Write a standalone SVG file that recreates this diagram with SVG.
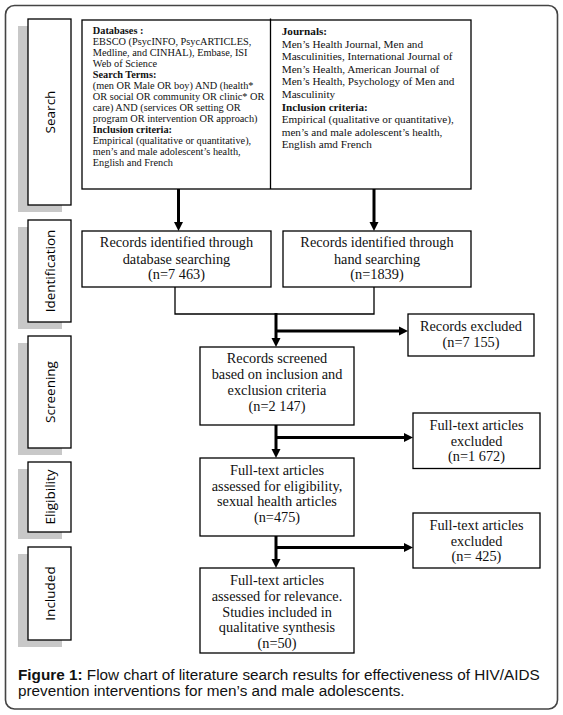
<svg xmlns="http://www.w3.org/2000/svg" width="563" height="715" viewBox="0 0 563 715">
<defs>
<style>
.box{fill:#fff;stroke:#000;stroke-width:1.3}
.shadow{fill:#c8c8c8;stroke:none}
.lbl{fill:#fff;stroke:#000;stroke-width:1.3}
.lt{font-family:"Open Sans","Noto Sans",sans-serif;font-size:13.5px;fill:#000;text-anchor:middle;dominant-baseline:central}
.t{font-family:"Liberation Serif","Times New Roman",serif;font-size:14.3px;fill:#111;text-anchor:middle}
.s1{font-family:"Liberation Serif","Times New Roman",serif;font-size:10.3px;fill:#111}
.s2{font-family:"Liberation Serif","Times New Roman",serif;font-size:11.2px;fill:#111}
.b{font-weight:bold}
.thick{stroke:#000;stroke-width:3;fill:none}
.thin{stroke:#000;stroke-width:1.3;fill:none}
.cap{font-family:"Liberation Sans",Arial,sans-serif;font-size:15.3px;fill:#111}
</style>
<marker id="ah" markerUnits="userSpaceOnUse" markerWidth="10" markerHeight="10" refX="0" refY="5" orient="auto">
<path d="M0,0.5 L9,5 L0,9.5 z" fill="#000"/>
</marker>
</defs>
<rect x="5.5" y="5.5" width="552" height="703.5" rx="9" fill="#fff" stroke="#444" stroke-width="1.6"/>

<g id="stage-search">
<rect class="shadow" x="18" y="26" width="44" height="186"/>
<rect class="lbl" x="28" y="19" width="43" height="186"/>
<text class="lt" transform="translate(49.5,112) rotate(-90)">Search</text>
</g>
<g id="stage-identification">
<rect class="shadow" x="18" y="227" width="44" height="102"/>
<rect class="lbl" x="28" y="220" width="43" height="102"/>
<text class="lt" transform="translate(49.5,271) rotate(-90)">Identification</text>
</g>
<g id="stage-screening">
<rect class="shadow" x="18" y="343" width="44" height="112"/>
<rect class="lbl" x="28" y="336" width="43" height="112"/>
<text class="lt" transform="translate(49.5,392) rotate(-90)">Screening</text>
</g>
<g id="stage-eligibility">
<rect class="shadow" x="18" y="469" width="44" height="70"/>
<rect class="lbl" x="28" y="462" width="43" height="70"/>
<text class="lt" transform="translate(49.5,497) rotate(-90)">Eligibility</text>
</g>
<g id="stage-included">
<rect class="shadow" x="18" y="554" width="44" height="93"/>
<rect class="lbl" x="28" y="547" width="43" height="93"/>
<text class="lt" transform="translate(49.5,593.5) rotate(-90)">Included</text>
</g>

<g id="search-box">
<rect class="box" x="82" y="20" width="389" height="169"/>
<line class="thin" x1="270.5" y1="18.5" x2="270.5" y2="189"/>
<text class="s1" x="92.8">
<tspan x="92.8" y="33.5" class="b">Databases :</tspan>
<tspan x="92.8" y="44.5">EBSCO (PsycINFO, PsycARTICLES,</tspan>
<tspan x="92.8" y="55.5">Medline, and CINHAL), Embase, ISI</tspan>
<tspan x="92.8" y="66.5">Web of Science</tspan>
<tspan x="92.8" y="77.5" class="b">Search Terms:</tspan>
<tspan x="92.8" y="88.5">(men OR Male OR boy) AND (health*</tspan>
<tspan x="92.8" y="99.5">OR social OR community OR clinic* OR</tspan>
<tspan x="92.8" y="110.5">care) AND (services OR setting OR</tspan>
<tspan x="92.8" y="121.5">program OR intervention OR approach)</tspan>
<tspan x="92.8" y="132.5" class="b">Inclusion criteria:</tspan>
<tspan x="92.8" y="143.5">Empirical (qualitative or quantitative),</tspan>
<tspan x="92.8" y="154.5">men’s and male adolescent’s health,</tspan>
<tspan x="92.8" y="165.5">English and French</tspan>
</text>
<text class="s2" x="281.7">
<tspan x="281.7" y="35" class="b">Journals:</tspan>
<tspan x="281.7" y="47.6">Men’s Health Journal, Men and</tspan>
<tspan x="281.7" y="60.2">Masculinities, International Journal of</tspan>
<tspan x="281.7" y="72.8">Men’s Health, American Journal of</tspan>
<tspan x="281.7" y="85.4">Men’s Health, Psychology of Men and</tspan>
<tspan x="281.7" y="98">Masculinity</tspan>
<tspan x="281.7" y="110.6" class="b">Inclusion criteria:</tspan>
<tspan x="281.7" y="123.2">Empirical (qualitative or quantitative),</tspan>
<tspan x="281.7" y="135.8">men’s and male adolescent’s health,</tspan>
<tspan x="281.7" y="148.4">English amd French</tspan>
</text>
</g>

<g id="id-database">
<rect class="box" x="82" y="231" width="189" height="56"/>
<text class="t" x="176.5" y="247">Records identified through</text>
<text class="t" x="176.5" y="263.5">database searching</text>
<text class="t" x="176.5" y="279">(n=7 463)</text>
</g>
<g id="id-hand">
<rect class="box" x="283" y="231" width="188" height="56"/>
<text class="t" x="377" y="247">Records identified through</text>
<text class="t" x="377" y="263.5">hand searching</text>
<text class="t" x="377" y="279">(n=1839)</text>
</g>
<g id="records-excluded">
<rect class="box" x="408" y="314" width="126" height="42"/>
<text class="t" x="471" y="330.5">Records excluded</text>
<text class="t" x="471" y="347">(n=7 155)</text>
</g>
<g id="records-screened">
<rect class="box" x="200" y="347" width="154" height="78"/>
<text class="t" x="277" y="362.5">Records screened</text>
<text class="t" x="277" y="378.5">based on inclusion and</text>
<text class="t" x="277" y="394.5">exclusion criteria</text>
<text class="t" x="277" y="410.5">(n=2 147)</text>
</g>
<g id="fulltext-excluded-1">
<rect class="box" x="413" y="413" width="127" height="55.5"/>
<text class="t" x="476.5" y="429.5">Full-text articles</text>
<text class="t" x="476.5" y="445.5">excluded</text>
<text class="t" x="476.5" y="461">(n=1 672)</text>
</g>
<g id="eligibility">
<rect class="box" x="200" y="458" width="154" height="78"/>
<text class="t" x="277" y="474.5">Full-text articles</text>
<text class="t" x="277" y="490.5">assessed for eligibility,</text>
<text class="t" x="277" y="506">sexual health articles</text>
<text class="t" x="277" y="522">(n=475)</text>
</g>
<g id="fulltext-excluded-2">
<rect class="box" x="413" y="513" width="127" height="55"/>
<text class="t" x="476.5" y="529.5">Full-text articles</text>
<text class="t" x="476.5" y="545.5">excluded</text>
<text class="t" x="476.5" y="561">(n= 425)</text>
</g>
<g id="included">
<rect class="box" x="200" y="568" width="154" height="85"/>
<text class="t" x="277" y="584.5">Full-text articles</text>
<text class="t" x="277" y="600.5">assessed for relevance.</text>
<text class="t" x="277" y="616.5">Studies included in</text>
<text class="t" x="277" y="632">qualitative synthesis</text>
<text class="t" x="277" y="647.5">(n=50)</text>
</g>

<g id="connectors">
<line class="thick" x1="178.5" y1="189" x2="178.5" y2="222" marker-end="url(#ah)"/>
<line class="thick" x1="374" y1="189" x2="374" y2="222" marker-end="url(#ah)"/>
<polyline class="thin" points="175,287 175,314 374,314 374,287"/>
<line class="thick" x1="276" y1="313" x2="276" y2="338" marker-end="url(#ah)"/>
<line class="thick" x1="276" y1="331" x2="399" y2="331" marker-end="url(#ah)"/>
<line class="thick" x1="276" y1="425" x2="276" y2="449" marker-end="url(#ah)"/>
<line class="thick" x1="276" y1="437.5" x2="404" y2="437.5" marker-end="url(#ah)"/>
<line class="thick" x1="276" y1="536" x2="276" y2="559" marker-end="url(#ah)"/>
<line class="thick" x1="276" y1="547.5" x2="404" y2="547.5" marker-end="url(#ah)"/>
</g>

<text class="cap" x="18" y="680"><tspan font-weight="bold">Figure 1:</tspan> Flow chart of literature search results for effectiveness of HIV/AIDS</text>
<text class="cap" x="18" y="696">prevention interventions for men’s and male adolescents.</text>
</svg>
